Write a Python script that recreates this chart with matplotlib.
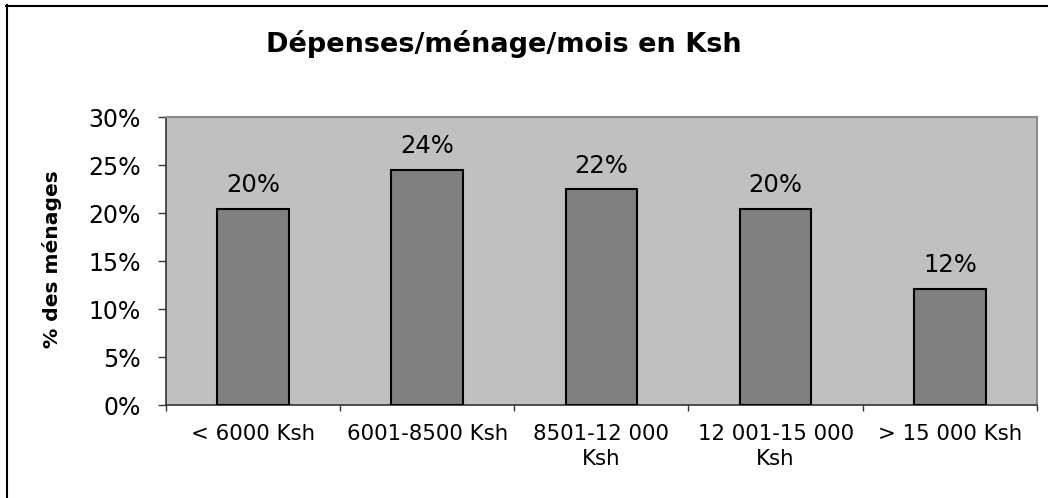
import matplotlib
matplotlib.use("Agg")
import matplotlib.pyplot as plt
from matplotlib.ticker import FuncFormatter, FixedLocator
from matplotlib.lines import Line2D

# Household monthly spending brackets and share of households
categories = ["< 6000 Ksh", "6001-8500 Ksh", "8501-12 000\nKsh",
              "12 001-15 000\nKsh", "> 15 000 Ksh"]
shares = [0.204, 0.2449, 0.2245, 0.204, 0.121]
y_ticks = [0.0, 0.05, 0.10, 0.15, 0.20, 0.25, 0.30]

title = "Dépenses/ménage/mois en Ksh"
y_label = "% des ménages"

plt.rcParams["font.family"] = ["DejaVu Sans"]

W, H = 1048, 498
fig = plt.figure(figsize=(W / 100, H / 100), dpi=100)
fig.patch.set_facecolor("white")

ax = fig.add_axes([165.7 / W, 1 - 405 / H, (1037 - 165.7) / W, (405 - 117) / H])
ax.set_facecolor("#C0C0C0")

x = list(range(len(categories)))
bars = ax.bar(x, shares, width=0.41, color="#808080", edgecolor="black",
              linewidth=1.5, zorder=3)

for xi, v in zip(x, shares):
    ax.annotate(f"{v:.0%}", xy=(xi, v), xytext=(0, 12.2), textcoords="offset points",
                ha="center", va="baseline", fontsize=17.5, color="black")

ax.set_xlim(-0.5, len(categories) - 0.5)
ax.set_ylim(0, 0.30)

ax.set_yticks(y_ticks)
ax.yaxis.set_major_formatter(FuncFormatter(lambda v, p: f"{v * 100:.0f}%"))
ax.tick_params(axis="y", direction="out", length=5.8, width=1.0, color="#333333",
               pad=12, labelsize=17)

ax.set_xticks(x)
ax.set_xticklabels(categories, fontsize=15.3, linespacing=1.32)
ax.xaxis.set_minor_locator(FixedLocator([i - 0.5 for i in range(len(categories) + 1)]))
ax.tick_params(axis="x", which="major", length=0, pad=13.5)
ax.tick_params(axis="x", which="minor", direction="out", length=4.5, width=1.0,
               color="#333333")

for side in ("left", "bottom"):
    ax.spines[side].set_color("#333333")
    ax.spines[side].set_linewidth(1.2)
for side in ("top", "right"):
    ax.spines[side].set_color("#8C8C8C")
    ax.spines[side].set_linewidth(1.5)

fig.text(504 / W, 1 - 52 / H, title, ha="center", va="baseline",
         fontsize=19.5, fontweight="bold")
fig.text(52 / W, 1 - 259 / H, y_label, ha="center", va="center", rotation=90,
         fontsize=14.6, fontweight="bold")

# Chart frame (top and left edges)
fig.add_artist(Line2D([6 / W, 1.0], [1 - 6 / H, 1 - 6 / H], transform=fig.transFigure,
                      color="black", linewidth=1.5))
fig.add_artist(Line2D([7 / W, 7 / W], [0.0, 1 - 5 / H], transform=fig.transFigure,
                      color="black", linewidth=1.5))

fig.savefig("out.png", dpi=100, facecolor="white")
